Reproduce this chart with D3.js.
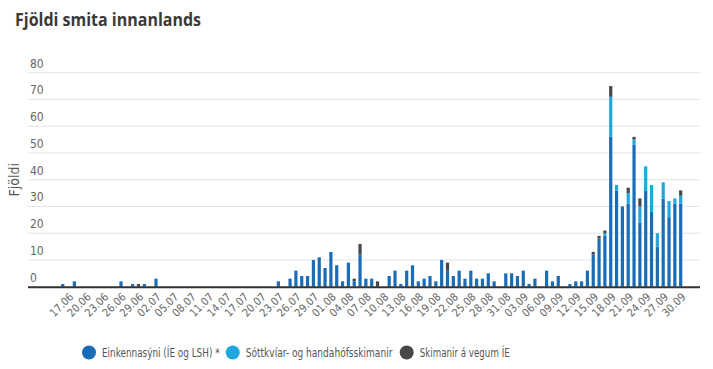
<!DOCTYPE html>
<html><head><meta charset="utf-8">
<script src="https://cdn.jsdelivr.net/npm/d3@7"></script>
<style>
body{margin:0;background:#fff;}
svg{display:block;font-family:"DejaVu Sans Condensed","Roboto",sans-serif;}
</style></head><body>
<svg id="c" width="713" height="369"></svg>
<script>
// Data (2020)
const startDay = "16.06", endDay = "30.09";
const caseDates = ["16.06","18.06","26.06","28.06","29.06","30.06","02.07",
 "23.07","25.07","26.07","27.07","28.07","29.07","30.07","31.07","01.08","02.08","03.08","04.08","05.08","06.08","07.08","08.08","09.08",
 "11.08","12.08","13.08","14.08","15.08","16.08","17.08","18.08","19.08","20.08","21.08","22.08","23.08","24.08","25.08","26.08","27.08","28.08","29.08",
 "31.08","01.09","02.09","03.09","04.09","05.09","07.09","08.09","09.09","11.09","12.09","13.09","14.09","15.09","16.09","17.09","18.09",
 "19.09","20.09","21.09","22.09","23.09","24.09","25.09","26.09","27.09","28.09","29.09","30.09"];
const einkennasyni = [1,2,2,1,0,1,3,
 2,3,6,4,4,10,11,7,13,8,2,9,2,12,3,3,0,
 4,6,1,6,8,2,3,4,2,10,6,4,6,3,6,3,3,5,2,
 5,5,4,6,1,3,6,2,4,1,2,2,6,12,18,19,56,
 36,30,31,53,24,36,28,15,33,26,31,31];
const sottkvi = [0,0,0,0,0,0,0,
 0,0,0,0,0,0,0,0,0,0,0,0,0,0,0,0,0,
 0,0,0,0,0,0,0,0,0,0,0,0,0,0,0,0,0,0,0,
 0,0,0,0,0,0,0,0,0,0,0,0,0,0,0,1,15,
 2,0,4,2,6,9,10,5,6,6,2,3];
const skimanirIE = [0,0,0,0,1,0,0,
 0,0,0,0,0,0,0,0,0,0,0,0,1,4,0,0,2,
 0,0,0,0,0,0,0,0,0,0,3,0,0,0,0,0,0,0,0,
 0,0,0,0,0,0,0,0,0,0,0,0,0,1,1,1,4,
 0,0,2,1,3,0,0,0,0,0,0,2];
const tickLabels = ["17.06","20.06","23.06","26.06","29.06","02.07","05.07","08.07","11.07","14.07","17.07","20.07",
 "23.07","26.07","29.07","01.08","04.08","07.08","10.08","13.08","16.08","19.08","22.08","25.08","28.08","31.08",
 "03.09","06.09","09.09","12.09","15.09","18.09","21.09","24.09","27.09","30.09"];
const yTicks = [0,10,20,30,40,50,60,70,80];
const seriesNames = ["Einkennasýni (ÍE og LSH) *","Sóttkvíar- og handahófsskimanir","Skimanir á vegum ÍE"];
const colors = ["#1a6cb6","#22a6df","#474747"];

const parse = d3.timeParse("%d.%m.%Y"), fmt = d3.timeFormat("%d.%m");
const allDays = d3.timeDay.range(parse(startDay+".2020"), d3.timeDay.offset(parse(endDay+".2020"),1)).map(fmt);

const svg = d3.select("#c");
const x = d3.scaleBand().domain(allDays).range([59.8, 683.6]).paddingInner(0.45).paddingOuter(0.225);
const y = d3.scaleLinear().domain([0,80]).range([286.7, 72.7]);

// title
svg.append("text").attr("x",15).attr("y",26).attr("font-size",18).attr("font-weight","bold")
  .attr("font-family","'Open Sans',sans-serif").attr("fill","#3a3a3a")
  .attr("textLength",186).attr("lengthAdjust","spacingAndGlyphs").text("Fjöldi smita innanlands");

// grid
const gl = 28, gr = 700;
yTicks.forEach(t=>{
  if(t>0) svg.append("line").attr("x1",gl).attr("x2",gr).attr("y1",y(t)).attr("y2",y(t)).attr("stroke","#e3e3e3").attr("stroke-width",1);
  svg.append("text").attr("x",30).attr("y",y(t)-5).attr("font-size",12).attr("fill","#666").text(t);
});
svg.append("text").attr("transform",`translate(19,${y(40)}) rotate(-90)`).attr("text-anchor","middle")
  .attr("font-size",14).attr("fill","#555").text("Fjöldi");

// stacked bars
const rows = caseDates.map((d,i)=>({date:d, a:einkennasyni[i], b:sottkvi[i], c:skimanirIE[i]}));
const stack = d3.stack().keys(["a","b","c"])(rows);
stack.forEach((s,k)=>{
  svg.append("g").selectAll("rect").data(s).join("rect")
    .attr("x",d=>x(d.data.date)).attr("width",x.bandwidth())
    .attr("y",d=>y(d[1])).attr("height",d=>y(d[0])-y(d[1]))
    .attr("fill",colors[k]);
});

// x axis
svg.append("line").attr("x1",gl).attr("x2",gr).attr("y1",y(0)+0.5).attr("y2",y(0)+0.5).attr("stroke","#333").attr("stroke-width",2);
const xAxis = d3.axisBottom(x).tickValues(tickLabels).tickSize(0).tickPadding(0);
const ax = svg.append("g").attr("transform",`translate(0,${y(0)+4})`).call(xAxis);
ax.select(".domain").remove();
ax.selectAll("text").attr("font-size",11).attr("fill","#666").attr("font-family","'DejaVu Sans Condensed',sans-serif")
  .attr("text-anchor","end").attr("dy","0.35em").attr("transform","translate(3,4) rotate(-45)");

// legend
const legX = [89, 232.7, 406.7];
const legW = [117.6, 146.7, 90];
seriesNames.forEach((n,i)=>{
  svg.append("circle").attr("cx",legX[i]).attr("cy",352.5).attr("r",7).attr("fill",colors[i]);
  svg.append("text").attr("x",legX[i]+13).attr("y",357).attr("font-size",11.5).attr("fill","#555")
    .attr("textLength",legW[i]).attr("lengthAdjust","spacingAndGlyphs").text(n);
});
</script></body></html>
